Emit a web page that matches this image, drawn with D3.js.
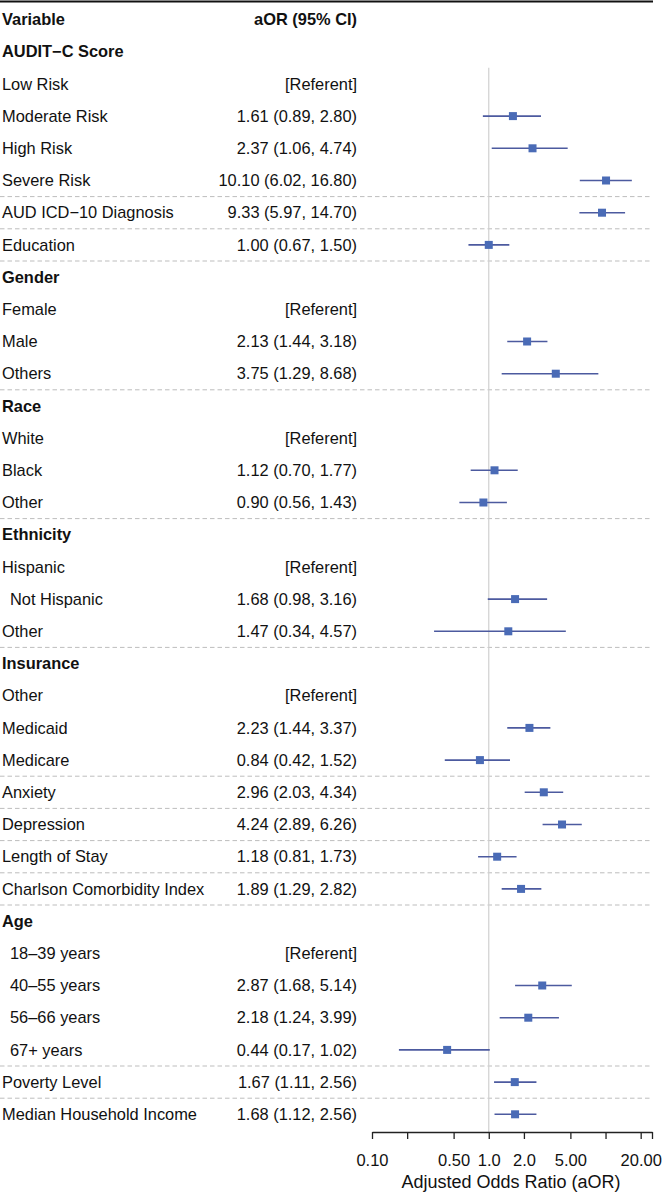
<!DOCTYPE html>
<html>
<head>
<meta charset="utf-8">
<script src="https://cdn.jsdelivr.net/npm/d3@7"></script>
<style>
  body { margin: 0; background: #fff; }
  svg { display: block; font-family: "Liberation Sans", Arial, Helvetica, sans-serif; }
</style>
</head>
<body>
<div id="chart"></div>
<script>
// rows of the forest plot, top to bottom
const labels = [
  "AUDIT\u2212C Score", "Low Risk", "Moderate Risk", "High Risk", "Severe Risk",
  "AUD ICD\u221210 Diagnosis", "Education",
  "Gender", "Female", "Male", "Others",
  "Race", "White", "Black", "Other",
  "Ethnicity", "Hispanic", "Not Hispanic", "Other",
  "Insurance", "Other", "Medicaid", "Medicare",
  "Anxiety", "Depression", "Length of Stay", "Charlson Comorbidity Index",
  "Age", "18\u201339 years", "40\u201355 years", "56\u201366 years", "67+ years",
  "Poverty Level", "Median Household Income"
];
// 0 = plain row, 1 = group heading, 2 = indented level
const rowKind = [
  1, 0, 0, 0, 0,
  0, 0,
  1, 0, 0, 0,
  1, 0, 0, 0,
  1, 0, 2, 0,
  1, 0, 0, 0,
  0, 0, 0, 0,
  1, 2, 2, 2, 2,
  0, 0
];
// "ref" marks the referent level
const aor = [
  null, "ref", 1.61, 2.37, 10.10,
  9.33, 1.00,
  null, "ref", 2.13, 3.75,
  null, "ref", 1.12, 0.90,
  null, "ref", 1.68, 1.47,
  null, "ref", 2.23, 0.84,
  2.96, 4.24, 1.18, 1.89,
  null, "ref", 2.87, 2.18, 0.44,
  1.67, 1.68
];
const ciLow = [
  null, null, 0.89, 1.06, 6.02,
  5.97, 0.67,
  null, null, 1.44, 1.29,
  null, null, 0.70, 0.56,
  null, null, 0.98, 0.34,
  null, null, 1.44, 0.42,
  2.03, 2.89, 0.81, 1.29,
  null, null, 1.68, 1.24, 0.17,
  1.11, 1.12
];
const ciHigh = [
  null, null, 2.80, 4.74, 16.80,
  14.70, 1.50,
  null, null, 3.18, 8.68,
  null, null, 1.77, 1.43,
  null, null, 3.16, 4.57,
  null, null, 3.37, 1.52,
  4.34, 6.26, 1.73, 2.82,
  null, null, 5.14, 3.99, 1.02,
  2.56, 2.56
];
// dashed separators come after these row indices
const separatorAfter = [4, 5, 6, 10, 14, 18, 22, 23, 24, 25, 26, 31, 32];

const tickValues = [0.1, 0.2, 0.5, 1, 2, 5, 10, 20, 25];
const tickLabels = ["0.10", "", "0.50", "1.0", "2.0", "5.00", "", "20.00", ""];

const W = 664, H = 1197;
const svg = d3.select("#chart").append("svg")
  .attr("width", W).attr("height", H);

const fs = 16.4;
const nRows = labels.length + 1; // + header
const y = d3.scaleLinear().domain([0, nRows - 1]).range([19.5, 19.5 + 32.2 * (nRows - 1)]);
const x = d3.scaleLog().domain([0.1, 25]).range([372, 652]);
const ciRight = 357;
const fmt = d3.format(".2f");
const blue = "#4a6bb6", lineBlue = "#4c5a9f";

// top rule
svg.append("line")
  .attr("x1", 0).attr("x2", 653).attr("y1", 1.5).attr("y2", 1.5)
  .attr("stroke", "#111").attr("stroke-width", 2.2);

// header
svg.append("text").attr("x", 2).attr("y", y(0)).attr("dy", "0.35em")
  .attr("font-size", fs).attr("font-weight", "bold").attr("fill", "#111").text("Variable");
svg.append("text").attr("x", ciRight).attr("y", y(0)).attr("dy", "0.35em")
  .attr("text-anchor", "end")
  .attr("font-size", fs).attr("font-weight", "bold").attr("fill", "#111").text("aOR (95% CI)");

// separators
svg.append("g").selectAll("line")
  .data(separatorAfter)
  .join("line")
  .attr("x1", 0).attr("x2", 652)
  .attr("y1", d => (y(d + 1) + y(d + 2)) / 2)
  .attr("y2", d => (y(d + 1) + y(d + 2)) / 2)
  .attr("stroke", "#bdbdbd").attr("stroke-width", 1)
  .attr("stroke-dasharray", "4.5,3");

// reference line at 1
const axisY = 1132;
svg.append("line")
  .attr("x1", x(1)).attr("x2", x(1))
  .attr("y1", (y(1) + y(2)) / 2).attr("y2", axisY)
  .attr("stroke", "#cfcfcf").attr("stroke-width", 1.2);

const rows = labels.map((d, i) => ({
  label: d, kind: rowKind[i], est: aor[i], lo: ciLow[i], hi: ciHigh[i], idx: i + 1
}));

// label column
svg.append("g").selectAll("text")
  .data(rows)
  .join("text")
  .attr("x", d => d.kind === 2 ? 10 : 2)
  .attr("y", d => y(d.idx)).attr("dy", "0.35em")
  .attr("font-size", fs)
  .attr("font-weight", d => d.kind === 1 ? "bold" : "normal")
  .attr("fill", "#111")
  .text(d => d.label);

// estimate column
svg.append("g").selectAll("text")
  .data(rows.filter(d => d.est !== null))
  .join("text")
  .attr("x", ciRight).attr("text-anchor", "end")
  .attr("y", d => y(d.idx)).attr("dy", "0.35em")
  .attr("font-size", fs).attr("fill", "#111")
  .text(d => d.est === "ref" ? "[Referent]" : `${fmt(d.est)} (${fmt(d.lo)}, ${fmt(d.hi)})`);

const pts = rows.filter(d => typeof d.est === "number");

// CI whiskers
svg.append("g").selectAll("line")
  .data(pts)
  .join("line")
  .attr("x1", d => x(d.lo)).attr("x2", d => x(d.hi))
  .attr("y1", d => y(d.idx)).attr("y2", d => y(d.idx))
  .attr("stroke", lineBlue).attr("stroke-width", 1.6);

// point estimates
const sq = 8;
svg.append("g").selectAll("rect")
  .data(pts)
  .join("rect")
  .attr("x", d => x(d.est) - sq / 2).attr("y", d => y(d.idx) - sq / 2)
  .attr("width", sq).attr("height", sq)
  .attr("fill", blue);

// x axis
const xAxis = svg.append("g")
  .attr("transform", `translate(0,${axisY})`)
  .call(d3.axisBottom(x)
    .tickValues(tickValues)
    .tickFormat((d, i) => tickLabels[i])
    .tickSize(7).tickSizeOuter(0).tickPadding(15));
xAxis.select(".domain").attr("stroke", "#222").attr("stroke-width", 1.3);
xAxis.selectAll(".tick line").attr("stroke", "#222").attr("stroke-width", 1.3);
xAxis.selectAll(".tick text")
  .attr("font-size", 16.5).attr("fill", "#111")
  .attr("font-family", "'Liberation Sans', Arial, Helvetica, sans-serif");

svg.append("text")
  .attr("x", 511).attr("y", 1188)
  .attr("text-anchor", "middle")
  .attr("font-size", 18).attr("fill", "#111")
  .text("Adjusted Odds Ratio (aOR)");
</script>
</body>
</html>
